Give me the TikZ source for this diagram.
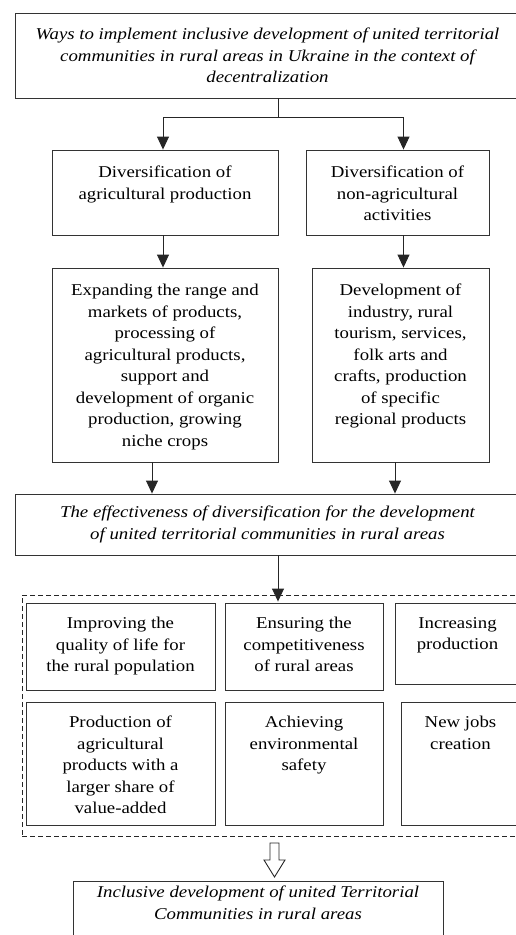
\documentclass[tikz,border=0pt]{standalone}
\usepackage{fontspec}
\setmainfont[FakeStretch=1.14]{Liberation Serif}
\usetikzlibrary{arrows.meta}

\begin{document}
\begin{tikzpicture}[x=1pt,y=-1pt,
    >={Triangle[width=12pt,length=13pt]},
    box/.style={draw=black!80,line width=0.9pt,inner sep=0pt},
    txt/.style={anchor=north,align=center,inner sep=0pt,
      font=\fontsize{16.5}{21.5}\selectfont},
    itxt/.style={align=center,font=\fontsize{16.5}{21.5}\selectfont\itshape},
    conn/.style={->,draw=black!85,line width=0.9pt}]

  \useasboundingbox (0,0) rectangle (516,935);

  % Oberste Box
  \node[box,itxt,minimum width=505pt,minimum height=85pt] (ways) at (267.5,55.5)
    {Ways to implement inclusive development of united territorial\\
     communities in rural areas in Ukraine in the context of\\
     decentralization};

  % Verzweigung
  \coordinate (split) at (278,117);
  \draw[line width=0.9pt,black!85] (ways.south -| split) -- (split);

  % Diversifikation
  \node[box,minimum width=226pt,minimum height=85pt] (agri) at (165,192.5) {};
  \node[txt] (agri-t) at (165,166) {Diversification of\\ agricultural production};
  \node[box,minimum width=183pt,minimum height=85pt] (nonagri) at (397.5,192.5) {};
  \node[txt] (nonagri-t) at (397.5,166)
    {Diversification of\\ non-agricultural\\ activities};

  \draw[conn] (split) -| ([xshift=-2pt]agri.north);
  \draw[conn] (split) -| ([xshift=6pt]nonagri.north);

  % Massnahmen
  \node[box,minimum width=226pt,minimum height=194pt] (agriway) at (165,365) {};
  \node[txt] (agriway-t) at (165,284)
    {Expanding the range and\\ markets of products,\\ processing of\\
     agricultural products,\\ support and\\ development of organic\\
     production, growing\\ niche crops};
  \node[box,minimum width=177pt,minimum height=194pt] (nonagriway) at (400.5,365) {};
  \node[txt] (nonagriway-t) at (400.5,284)
    {Development of\\ industry, rural\\ tourism, services,\\ folk arts and\\
     crafts, production\\ of specific\\ regional products};

  \draw[conn] ([xshift=-2pt]agri.south) -- ([xshift=-2pt]agri.south |- agriway.north);
  \draw[conn] ([xshift=6pt]nonagri.south) -- ([xshift=6pt]nonagri.south |- nonagriway.north);

  % Wirksamkeit
  \node[box,itxt,minimum width=505pt,minimum height=61pt] (effect) at (267.5,524.5)
    {The effectiveness of diversification for the development\\
     of united territorial communities in rural areas};

  \draw[conn] ([xshift=-13pt]agriway.south) -- ([xshift=-13pt]agriway.south |- effect.north);
  \draw[conn] ([xshift=-5.5pt]nonagriway.south) -- ([xshift=-5.5pt]nonagriway.south |- effect.north);

  % Ergebnisse (gestrichelter Rahmen)
  \node[draw=black!85,line width=0.9pt,dash pattern=on 5pt off 3pt,
    minimum width=498pt,minimum height=241pt] (results) at (271,715.5) {};
  \draw[conn] (effect.south -| split) -- ([yshift=-7pt]results.north -| split);

  \node[box,minimum width=189pt,minimum height=87pt] (life) at (120.5,646.5) {};
  \node[txt] (life-t) at (120.5,617)
    {Improving the\\ quality of life for\\ the rural population};
  \node[box,minimum width=158pt,minimum height=87pt] (compet) at (304,646.5) {};
  \node[txt] (compet-t) at (304,617)
    {Ensuring the\\ competitiveness\\ of rural areas};
  \node[box,minimum width=125pt,minimum height=81pt] (prod) at (457.5,643.5) {};
  \node[txt] (prod-t) at (457.5,617) {Increasing\\ production};

  \node[box,minimum width=189pt,minimum height=123pt] (value) at (120.5,763.5) {};
  \node[txt] (value-t) at (120.5,716)
    {Production of\\ agricultural\\ products with a\\ larger share of\\ value-added};
  \node[box,minimum width=158pt,minimum height=123pt] (safety) at (304,763.5) {};
  \node[txt] (safety-t) at (304,716) {Achieving\\ environmental\\ safety};
  \node[box,minimum width=119pt,minimum height=123pt] (jobs) at (460.5,763.5) {};
  \node[txt] (jobs-t) at (460.5,716) {New jobs\\ creation};

  % Hohlpfeil
  \coordinate (hollow) at (274.5,843);
  \draw[line width=0.9pt,black!85,fill=white]
    (hollow) ++(-4.5,0) -- ++(0,17) -- ++(-6,0) -- (274.5,877)
    -- (285,860) -- ++(-6,0) -- ++(0,-17) -- cycle;

  % Ergebnis
  \node[box,itxt,minimum width=370pt,minimum height=74pt,anchor=north,
    text depth=32pt] (incl) at (258,881)
    {Inclusive development of united Territorial\\ Communities in rural areas};

\end{tikzpicture}
\end{document}
